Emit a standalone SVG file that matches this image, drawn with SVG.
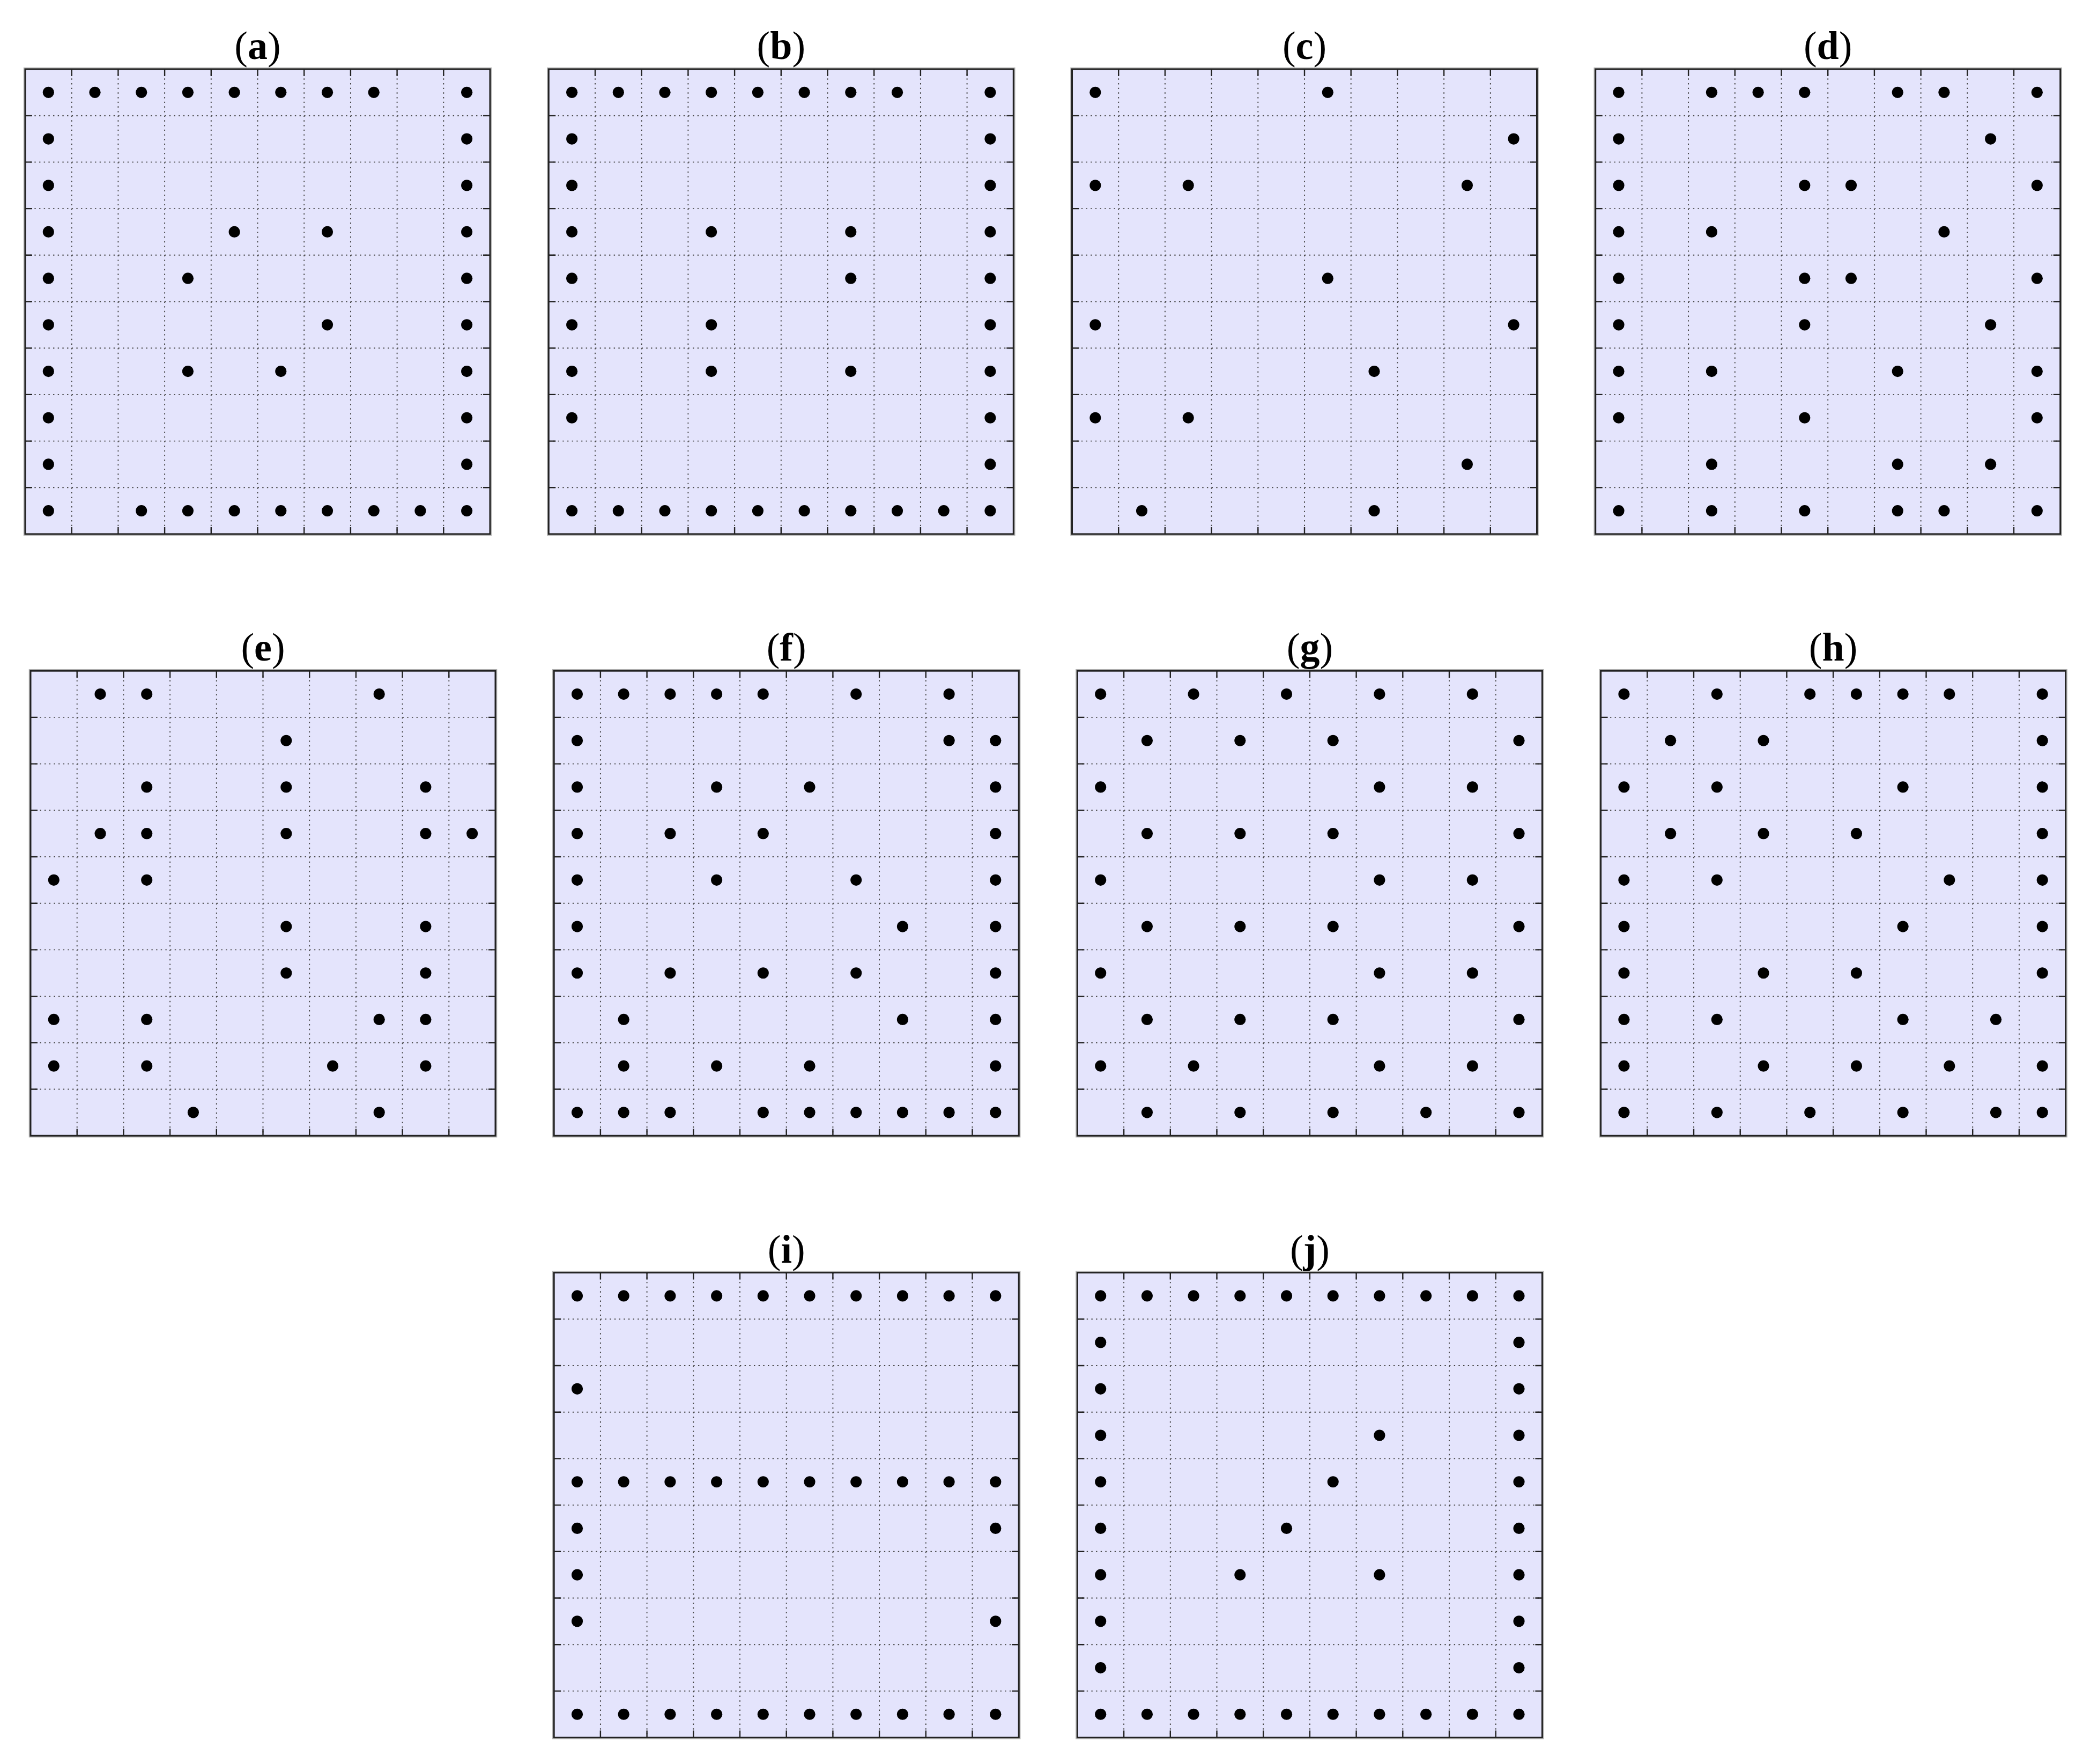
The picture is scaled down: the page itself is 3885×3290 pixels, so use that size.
<svg xmlns="http://www.w3.org/2000/svg" xmlns:xlink="http://www.w3.org/1999/xlink" width="3885" height="3290" viewBox="0 0 3885 3290">
<style>
.bg{fill:#E4E4FC}
.halo{fill:none;stroke:#b4b4b4;stroke-width:6.5}
.grid{fill:none;stroke:#444;stroke-width:1.9;stroke-dasharray:2.4 6.27}
.tick{fill:none;stroke:#222;stroke-width:2.4}
.border{fill:none;stroke:#222;stroke-width:3}
.dots circle{fill:#000}
.title{font-family:"Liberation Serif","Times New Roman",serif;font-size:74px;fill:#000;text-anchor:middle}
.title tspan{font-weight:bold}
</style>
<defs>
<symbol id="frame" overflow="visible">
<rect class="halo" x="0" y="0" width="867" height="867"/>
<rect class="bg" x="0" y="0" width="867" height="867"/>
<path class="grid" d="M86.7 0V867M173.4 0V867M260.1 0V867M346.8 0V867M433.5 0V867M520.2 0V867M606.9 0V867M693.6 0V867M780.3 0V867M0 86.7H867M0 173.4H867M0 260.1H867M0 346.8H867M0 433.5H867M0 520.2H867M0 606.9H867M0 693.6H867M0 780.3H867"/>
<path class="tick" d="M86.7 0v13M173.4 0v13M260.1 0v13M346.8 0v13M433.5 0v13M520.2 0v13M606.9 0v13M693.6 0v13M780.3 0v13M86.7 867v-13M173.4 867v-13M260.1 867v-13M346.8 867v-13M433.5 867v-13M520.2 867v-13M606.9 867v-13M693.6 867v-13M780.3 867v-13M0 86.7h13M0 173.4h13M0 260.1h13M0 346.8h13M0 433.5h13M0 520.2h13M0 606.9h13M0 693.6h13M0 780.3h13M867 86.7h-13M867 173.4h-13M867 260.1h-13M867 346.8h-13M867 433.5h-13M867 520.2h-13M867 606.9h-13M867 693.6h-13M867 780.3h-13"/>
<rect class="border" x="0" y="0" width="867" height="867"/>
</symbol>
</defs>
<rect x="0" y="0" width="3885" height="3290" fill="#fff"/>

<g id="panel-a" transform="translate(47,129)">
<use xlink:href="#frame" href="#frame"/>
<text class="title" x="433.5" y="-19">(<tspan>a</tspan>)</text>
<g class="dots" transform="scale(86.7)">
<circle cx="0.5" cy="0.5" r="0.122"/><circle cx="1.5" cy="0.5" r="0.122"/><circle cx="2.5" cy="0.5" r="0.122"/><circle cx="3.5" cy="0.5" r="0.122"/><circle cx="4.5" cy="0.5" r="0.122"/><circle cx="5.5" cy="0.5" r="0.122"/><circle cx="6.5" cy="0.5" r="0.122"/><circle cx="7.5" cy="0.5" r="0.122"/><circle cx="9.5" cy="0.5" r="0.122"/>
<circle cx="0.5" cy="1.5" r="0.122"/><circle cx="9.5" cy="1.5" r="0.122"/>
<circle cx="0.5" cy="2.5" r="0.122"/><circle cx="9.5" cy="2.5" r="0.122"/>
<circle cx="0.5" cy="3.5" r="0.122"/><circle cx="4.5" cy="3.5" r="0.122"/><circle cx="6.5" cy="3.5" r="0.122"/><circle cx="9.5" cy="3.5" r="0.122"/>
<circle cx="0.5" cy="4.5" r="0.122"/><circle cx="3.5" cy="4.5" r="0.122"/><circle cx="9.5" cy="4.5" r="0.122"/>
<circle cx="0.5" cy="5.5" r="0.122"/><circle cx="6.5" cy="5.5" r="0.122"/><circle cx="9.5" cy="5.5" r="0.122"/>
<circle cx="0.5" cy="6.5" r="0.122"/><circle cx="3.5" cy="6.5" r="0.122"/><circle cx="5.5" cy="6.5" r="0.122"/><circle cx="9.5" cy="6.5" r="0.122"/>
<circle cx="0.5" cy="7.5" r="0.122"/><circle cx="9.5" cy="7.5" r="0.122"/>
<circle cx="0.5" cy="8.5" r="0.122"/><circle cx="9.5" cy="8.5" r="0.122"/>
<circle cx="0.5" cy="9.5" r="0.122"/><circle cx="2.5" cy="9.5" r="0.122"/><circle cx="3.5" cy="9.5" r="0.122"/><circle cx="4.5" cy="9.5" r="0.122"/><circle cx="5.5" cy="9.5" r="0.122"/><circle cx="6.5" cy="9.5" r="0.122"/><circle cx="7.5" cy="9.5" r="0.122"/><circle cx="8.5" cy="9.5" r="0.122"/><circle cx="9.5" cy="9.5" r="0.122"/>
</g>
</g>

<g id="panel-b" transform="translate(1023.3,129)">
<use xlink:href="#frame" href="#frame"/>
<text class="title" x="433.5" y="-19">(<tspan>b</tspan>)</text>
<g class="dots" transform="scale(86.7)">
<circle cx="0.5" cy="0.5" r="0.122"/><circle cx="1.5" cy="0.5" r="0.122"/><circle cx="2.5" cy="0.5" r="0.122"/><circle cx="3.5" cy="0.5" r="0.122"/><circle cx="4.5" cy="0.5" r="0.122"/><circle cx="5.5" cy="0.5" r="0.122"/><circle cx="6.5" cy="0.5" r="0.122"/><circle cx="7.5" cy="0.5" r="0.122"/><circle cx="9.5" cy="0.5" r="0.122"/>
<circle cx="0.5" cy="1.5" r="0.122"/><circle cx="9.5" cy="1.5" r="0.122"/>
<circle cx="0.5" cy="2.5" r="0.122"/><circle cx="9.5" cy="2.5" r="0.122"/>
<circle cx="0.5" cy="3.5" r="0.122"/><circle cx="3.5" cy="3.5" r="0.122"/><circle cx="6.5" cy="3.5" r="0.122"/><circle cx="9.5" cy="3.5" r="0.122"/>
<circle cx="0.5" cy="4.5" r="0.122"/><circle cx="6.5" cy="4.5" r="0.122"/><circle cx="9.5" cy="4.5" r="0.122"/>
<circle cx="0.5" cy="5.5" r="0.122"/><circle cx="3.5" cy="5.5" r="0.122"/><circle cx="9.5" cy="5.5" r="0.122"/>
<circle cx="0.5" cy="6.5" r="0.122"/><circle cx="3.5" cy="6.5" r="0.122"/><circle cx="6.5" cy="6.5" r="0.122"/><circle cx="9.5" cy="6.5" r="0.122"/>
<circle cx="0.5" cy="7.5" r="0.122"/><circle cx="9.5" cy="7.5" r="0.122"/>
<circle cx="9.5" cy="8.5" r="0.122"/>
<circle cx="0.5" cy="9.5" r="0.122"/><circle cx="1.5" cy="9.5" r="0.122"/><circle cx="2.5" cy="9.5" r="0.122"/><circle cx="3.5" cy="9.5" r="0.122"/><circle cx="4.5" cy="9.5" r="0.122"/><circle cx="5.5" cy="9.5" r="0.122"/><circle cx="6.5" cy="9.5" r="0.122"/><circle cx="7.5" cy="9.5" r="0.122"/><circle cx="8.5" cy="9.5" r="0.122"/><circle cx="9.5" cy="9.5" r="0.122"/>
</g>
</g>

<g id="panel-c" transform="translate(1999.5,129)">
<use xlink:href="#frame" href="#frame"/>
<text class="title" x="433.5" y="-19">(<tspan>c</tspan>)</text>
<g class="dots" transform="scale(86.7)">
<circle cx="0.5" cy="0.5" r="0.122"/><circle cx="5.5" cy="0.5" r="0.122"/>
<circle cx="9.5" cy="1.5" r="0.122"/>
<circle cx="0.5" cy="2.5" r="0.122"/><circle cx="2.5" cy="2.5" r="0.122"/><circle cx="8.5" cy="2.5" r="0.122"/>
<circle cx="5.5" cy="4.5" r="0.122"/>
<circle cx="0.5" cy="5.5" r="0.122"/><circle cx="9.5" cy="5.5" r="0.122"/>
<circle cx="6.5" cy="6.5" r="0.122"/>
<circle cx="0.5" cy="7.5" r="0.122"/><circle cx="2.5" cy="7.5" r="0.122"/>
<circle cx="8.5" cy="8.5" r="0.122"/>
<circle cx="1.5" cy="9.5" r="0.122"/><circle cx="6.5" cy="9.5" r="0.122"/>
</g>
</g>

<g id="panel-d" transform="translate(2975.7,129)">
<use xlink:href="#frame" href="#frame"/>
<text class="title" x="433.5" y="-19">(<tspan>d</tspan>)</text>
<g class="dots" transform="scale(86.7)">
<circle cx="0.5" cy="0.5" r="0.122"/><circle cx="2.5" cy="0.5" r="0.122"/><circle cx="3.5" cy="0.5" r="0.122"/><circle cx="4.5" cy="0.5" r="0.122"/><circle cx="6.5" cy="0.5" r="0.122"/><circle cx="7.5" cy="0.5" r="0.122"/><circle cx="9.5" cy="0.5" r="0.122"/>
<circle cx="0.5" cy="1.5" r="0.122"/><circle cx="8.5" cy="1.5" r="0.122"/>
<circle cx="0.5" cy="2.5" r="0.122"/><circle cx="4.5" cy="2.5" r="0.122"/><circle cx="5.5" cy="2.5" r="0.122"/><circle cx="9.5" cy="2.5" r="0.122"/>
<circle cx="0.5" cy="3.5" r="0.122"/><circle cx="2.5" cy="3.5" r="0.122"/><circle cx="7.5" cy="3.5" r="0.122"/>
<circle cx="0.5" cy="4.5" r="0.122"/><circle cx="4.5" cy="4.5" r="0.122"/><circle cx="5.5" cy="4.5" r="0.122"/><circle cx="9.5" cy="4.5" r="0.122"/>
<circle cx="0.5" cy="5.5" r="0.122"/><circle cx="4.5" cy="5.5" r="0.122"/><circle cx="8.5" cy="5.5" r="0.122"/>
<circle cx="0.5" cy="6.5" r="0.122"/><circle cx="2.5" cy="6.5" r="0.122"/><circle cx="6.5" cy="6.5" r="0.122"/><circle cx="9.5" cy="6.5" r="0.122"/>
<circle cx="0.5" cy="7.5" r="0.122"/><circle cx="4.5" cy="7.5" r="0.122"/><circle cx="9.5" cy="7.5" r="0.122"/>
<circle cx="2.5" cy="8.5" r="0.122"/><circle cx="6.5" cy="8.5" r="0.122"/><circle cx="8.5" cy="8.5" r="0.122"/>
<circle cx="0.5" cy="9.5" r="0.122"/><circle cx="2.5" cy="9.5" r="0.122"/><circle cx="4.5" cy="9.5" r="0.122"/><circle cx="6.5" cy="9.5" r="0.122"/><circle cx="7.5" cy="9.5" r="0.122"/><circle cx="9.5" cy="9.5" r="0.122"/>
</g>
</g>

<g id="panel-e" transform="translate(57,1251.2)">
<use xlink:href="#frame" href="#frame"/>
<text class="title" x="433.5" y="-19">(<tspan>e</tspan>)</text>
<g class="dots" transform="scale(86.7)">
<circle cx="1.5" cy="0.5" r="0.122"/><circle cx="2.5" cy="0.5" r="0.122"/><circle cx="7.5" cy="0.5" r="0.122"/>
<circle cx="5.5" cy="1.5" r="0.122"/>
<circle cx="2.5" cy="2.5" r="0.122"/><circle cx="5.5" cy="2.5" r="0.122"/><circle cx="8.5" cy="2.5" r="0.122"/>
<circle cx="1.5" cy="3.5" r="0.122"/><circle cx="2.5" cy="3.5" r="0.122"/><circle cx="5.5" cy="3.5" r="0.122"/><circle cx="8.5" cy="3.5" r="0.122"/><circle cx="9.5" cy="3.5" r="0.122"/>
<circle cx="0.5" cy="4.5" r="0.122"/><circle cx="2.5" cy="4.5" r="0.122"/>
<circle cx="5.5" cy="5.5" r="0.122"/><circle cx="8.5" cy="5.5" r="0.122"/>
<circle cx="5.5" cy="6.5" r="0.122"/><circle cx="8.5" cy="6.5" r="0.122"/>
<circle cx="0.5" cy="7.5" r="0.122"/><circle cx="2.5" cy="7.5" r="0.122"/><circle cx="7.5" cy="7.5" r="0.122"/><circle cx="8.5" cy="7.5" r="0.122"/>
<circle cx="0.5" cy="8.5" r="0.122"/><circle cx="2.5" cy="8.5" r="0.122"/><circle cx="6.5" cy="8.5" r="0.122"/><circle cx="8.5" cy="8.5" r="0.122"/>
<circle cx="3.5" cy="9.5" r="0.122"/><circle cx="7.5" cy="9.5" r="0.122"/>
</g>
</g>

<g id="panel-f" transform="translate(1033.2,1251.2)">
<use xlink:href="#frame" href="#frame"/>
<text class="title" x="433.5" y="-19">(<tspan>f</tspan>)</text>
<g class="dots" transform="scale(86.7)">
<circle cx="0.5" cy="0.5" r="0.122"/><circle cx="1.5" cy="0.5" r="0.122"/><circle cx="2.5" cy="0.5" r="0.122"/><circle cx="3.5" cy="0.5" r="0.122"/><circle cx="4.5" cy="0.5" r="0.122"/><circle cx="6.5" cy="0.5" r="0.122"/><circle cx="8.5" cy="0.5" r="0.122"/>
<circle cx="0.5" cy="1.5" r="0.122"/><circle cx="8.5" cy="1.5" r="0.122"/><circle cx="9.5" cy="1.5" r="0.122"/>
<circle cx="0.5" cy="2.5" r="0.122"/><circle cx="3.5" cy="2.5" r="0.122"/><circle cx="5.5" cy="2.5" r="0.122"/><circle cx="9.5" cy="2.5" r="0.122"/>
<circle cx="0.5" cy="3.5" r="0.122"/><circle cx="2.5" cy="3.5" r="0.122"/><circle cx="4.5" cy="3.5" r="0.122"/><circle cx="9.5" cy="3.5" r="0.122"/>
<circle cx="0.5" cy="4.5" r="0.122"/><circle cx="3.5" cy="4.5" r="0.122"/><circle cx="6.5" cy="4.5" r="0.122"/><circle cx="9.5" cy="4.5" r="0.122"/>
<circle cx="0.5" cy="5.5" r="0.122"/><circle cx="7.5" cy="5.5" r="0.122"/><circle cx="9.5" cy="5.5" r="0.122"/>
<circle cx="0.5" cy="6.5" r="0.122"/><circle cx="2.5" cy="6.5" r="0.122"/><circle cx="4.5" cy="6.5" r="0.122"/><circle cx="6.5" cy="6.5" r="0.122"/><circle cx="9.5" cy="6.5" r="0.122"/>
<circle cx="1.5" cy="7.5" r="0.122"/><circle cx="7.5" cy="7.5" r="0.122"/><circle cx="9.5" cy="7.5" r="0.122"/>
<circle cx="1.5" cy="8.5" r="0.122"/><circle cx="3.5" cy="8.5" r="0.122"/><circle cx="5.5" cy="8.5" r="0.122"/><circle cx="9.5" cy="8.5" r="0.122"/>
<circle cx="0.5" cy="9.5" r="0.122"/><circle cx="1.5" cy="9.5" r="0.122"/><circle cx="2.5" cy="9.5" r="0.122"/><circle cx="4.5" cy="9.5" r="0.122"/><circle cx="5.5" cy="9.5" r="0.122"/><circle cx="6.5" cy="9.5" r="0.122"/><circle cx="7.5" cy="9.5" r="0.122"/><circle cx="8.5" cy="9.5" r="0.122"/><circle cx="9.5" cy="9.5" r="0.122"/>
</g>
</g>

<g id="panel-g" transform="translate(2009.4,1251.2)">
<use xlink:href="#frame" href="#frame"/>
<text class="title" x="433.5" y="-19">(<tspan>g</tspan>)</text>
<g class="dots" transform="scale(86.7)">
<circle cx="0.5" cy="0.5" r="0.122"/><circle cx="2.5" cy="0.5" r="0.122"/><circle cx="4.5" cy="0.5" r="0.122"/><circle cx="6.5" cy="0.5" r="0.122"/><circle cx="8.5" cy="0.5" r="0.122"/>
<circle cx="1.5" cy="1.5" r="0.122"/><circle cx="3.5" cy="1.5" r="0.122"/><circle cx="5.5" cy="1.5" r="0.122"/><circle cx="9.5" cy="1.5" r="0.122"/>
<circle cx="0.5" cy="2.5" r="0.122"/><circle cx="6.5" cy="2.5" r="0.122"/><circle cx="8.5" cy="2.5" r="0.122"/>
<circle cx="1.5" cy="3.5" r="0.122"/><circle cx="3.5" cy="3.5" r="0.122"/><circle cx="5.5" cy="3.5" r="0.122"/><circle cx="9.5" cy="3.5" r="0.122"/>
<circle cx="0.5" cy="4.5" r="0.122"/><circle cx="6.5" cy="4.5" r="0.122"/><circle cx="8.5" cy="4.5" r="0.122"/>
<circle cx="1.5" cy="5.5" r="0.122"/><circle cx="3.5" cy="5.5" r="0.122"/><circle cx="5.5" cy="5.5" r="0.122"/><circle cx="9.5" cy="5.5" r="0.122"/>
<circle cx="0.5" cy="6.5" r="0.122"/><circle cx="6.5" cy="6.5" r="0.122"/><circle cx="8.5" cy="6.5" r="0.122"/>
<circle cx="1.5" cy="7.5" r="0.122"/><circle cx="3.5" cy="7.5" r="0.122"/><circle cx="5.5" cy="7.5" r="0.122"/><circle cx="9.5" cy="7.5" r="0.122"/>
<circle cx="0.5" cy="8.5" r="0.122"/><circle cx="2.5" cy="8.5" r="0.122"/><circle cx="6.5" cy="8.5" r="0.122"/><circle cx="8.5" cy="8.5" r="0.122"/>
<circle cx="1.5" cy="9.5" r="0.122"/><circle cx="3.5" cy="9.5" r="0.122"/><circle cx="5.5" cy="9.5" r="0.122"/><circle cx="7.5" cy="9.5" r="0.122"/><circle cx="9.5" cy="9.5" r="0.122"/>
</g>
</g>

<g id="panel-h" transform="translate(2985.6,1251.2)">
<use xlink:href="#frame" href="#frame"/>
<text class="title" x="433.5" y="-19">(<tspan>h</tspan>)</text>
<g class="dots" transform="scale(86.7)">
<circle cx="0.5" cy="0.5" r="0.122"/><circle cx="2.5" cy="0.5" r="0.122"/><circle cx="4.5" cy="0.5" r="0.122"/><circle cx="5.5" cy="0.5" r="0.122"/><circle cx="6.5" cy="0.5" r="0.122"/><circle cx="7.5" cy="0.5" r="0.122"/><circle cx="9.5" cy="0.5" r="0.122"/>
<circle cx="1.5" cy="1.5" r="0.122"/><circle cx="3.5" cy="1.5" r="0.122"/><circle cx="9.5" cy="1.5" r="0.122"/>
<circle cx="0.5" cy="2.5" r="0.122"/><circle cx="2.5" cy="2.5" r="0.122"/><circle cx="6.5" cy="2.5" r="0.122"/><circle cx="9.5" cy="2.5" r="0.122"/>
<circle cx="1.5" cy="3.5" r="0.122"/><circle cx="3.5" cy="3.5" r="0.122"/><circle cx="5.5" cy="3.5" r="0.122"/><circle cx="9.5" cy="3.5" r="0.122"/>
<circle cx="0.5" cy="4.5" r="0.122"/><circle cx="2.5" cy="4.5" r="0.122"/><circle cx="7.5" cy="4.5" r="0.122"/><circle cx="9.5" cy="4.5" r="0.122"/>
<circle cx="0.5" cy="5.5" r="0.122"/><circle cx="6.5" cy="5.5" r="0.122"/><circle cx="9.5" cy="5.5" r="0.122"/>
<circle cx="0.5" cy="6.5" r="0.122"/><circle cx="3.5" cy="6.5" r="0.122"/><circle cx="5.5" cy="6.5" r="0.122"/><circle cx="9.5" cy="6.5" r="0.122"/>
<circle cx="0.5" cy="7.5" r="0.122"/><circle cx="2.5" cy="7.5" r="0.122"/><circle cx="6.5" cy="7.5" r="0.122"/><circle cx="8.5" cy="7.5" r="0.122"/>
<circle cx="0.5" cy="8.5" r="0.122"/><circle cx="3.5" cy="8.5" r="0.122"/><circle cx="5.5" cy="8.5" r="0.122"/><circle cx="7.5" cy="8.5" r="0.122"/><circle cx="9.5" cy="8.5" r="0.122"/>
<circle cx="0.5" cy="9.5" r="0.122"/><circle cx="2.5" cy="9.5" r="0.122"/><circle cx="4.5" cy="9.5" r="0.122"/><circle cx="6.5" cy="9.5" r="0.122"/><circle cx="8.5" cy="9.5" r="0.122"/><circle cx="9.5" cy="9.5" r="0.122"/>
</g>
</g>

<g id="panel-i" transform="translate(1033.2,2373.6)">
<use xlink:href="#frame" href="#frame"/>
<text class="title" x="433.5" y="-19">(<tspan>i</tspan>)</text>
<g class="dots" transform="scale(86.7)">
<circle cx="0.5" cy="0.5" r="0.122"/><circle cx="1.5" cy="0.5" r="0.122"/><circle cx="2.5" cy="0.5" r="0.122"/><circle cx="3.5" cy="0.5" r="0.122"/><circle cx="4.5" cy="0.5" r="0.122"/><circle cx="5.5" cy="0.5" r="0.122"/><circle cx="6.5" cy="0.5" r="0.122"/><circle cx="7.5" cy="0.5" r="0.122"/><circle cx="8.5" cy="0.5" r="0.122"/><circle cx="9.5" cy="0.5" r="0.122"/>
<circle cx="0.5" cy="2.5" r="0.122"/>
<circle cx="0.5" cy="4.5" r="0.122"/><circle cx="1.5" cy="4.5" r="0.122"/><circle cx="2.5" cy="4.5" r="0.122"/><circle cx="3.5" cy="4.5" r="0.122"/><circle cx="4.5" cy="4.5" r="0.122"/><circle cx="5.5" cy="4.5" r="0.122"/><circle cx="6.5" cy="4.5" r="0.122"/><circle cx="7.5" cy="4.5" r="0.122"/><circle cx="8.5" cy="4.5" r="0.122"/><circle cx="9.5" cy="4.5" r="0.122"/>
<circle cx="0.5" cy="5.5" r="0.122"/><circle cx="9.5" cy="5.5" r="0.122"/>
<circle cx="0.5" cy="6.5" r="0.122"/>
<circle cx="0.5" cy="7.5" r="0.122"/><circle cx="9.5" cy="7.5" r="0.122"/>
<circle cx="0.5" cy="9.5" r="0.122"/><circle cx="1.5" cy="9.5" r="0.122"/><circle cx="2.5" cy="9.5" r="0.122"/><circle cx="3.5" cy="9.5" r="0.122"/><circle cx="4.5" cy="9.5" r="0.122"/><circle cx="5.5" cy="9.5" r="0.122"/><circle cx="6.5" cy="9.5" r="0.122"/><circle cx="7.5" cy="9.5" r="0.122"/><circle cx="8.5" cy="9.5" r="0.122"/><circle cx="9.5" cy="9.5" r="0.122"/>
</g>
</g>

<g id="panel-j" transform="translate(2009.4,2373.6)">
<use xlink:href="#frame" href="#frame"/>
<text class="title" x="433.5" y="-19">(<tspan>j</tspan>)</text>
<g class="dots" transform="scale(86.7)">
<circle cx="0.5" cy="0.5" r="0.122"/><circle cx="1.5" cy="0.5" r="0.122"/><circle cx="2.5" cy="0.5" r="0.122"/><circle cx="3.5" cy="0.5" r="0.122"/><circle cx="4.5" cy="0.5" r="0.122"/><circle cx="5.5" cy="0.5" r="0.122"/><circle cx="6.5" cy="0.5" r="0.122"/><circle cx="7.5" cy="0.5" r="0.122"/><circle cx="8.5" cy="0.5" r="0.122"/><circle cx="9.5" cy="0.5" r="0.122"/>
<circle cx="0.5" cy="1.5" r="0.122"/><circle cx="9.5" cy="1.5" r="0.122"/>
<circle cx="0.5" cy="2.5" r="0.122"/><circle cx="9.5" cy="2.5" r="0.122"/>
<circle cx="0.5" cy="3.5" r="0.122"/><circle cx="6.5" cy="3.5" r="0.122"/><circle cx="9.5" cy="3.5" r="0.122"/>
<circle cx="0.5" cy="4.5" r="0.122"/><circle cx="5.5" cy="4.5" r="0.122"/><circle cx="9.5" cy="4.5" r="0.122"/>
<circle cx="0.5" cy="5.5" r="0.122"/><circle cx="4.5" cy="5.5" r="0.122"/><circle cx="9.5" cy="5.5" r="0.122"/>
<circle cx="0.5" cy="6.5" r="0.122"/><circle cx="3.5" cy="6.5" r="0.122"/><circle cx="6.5" cy="6.5" r="0.122"/><circle cx="9.5" cy="6.5" r="0.122"/>
<circle cx="0.5" cy="7.5" r="0.122"/><circle cx="9.5" cy="7.5" r="0.122"/>
<circle cx="0.5" cy="8.5" r="0.122"/><circle cx="9.5" cy="8.5" r="0.122"/>
<circle cx="0.5" cy="9.5" r="0.122"/><circle cx="1.5" cy="9.5" r="0.122"/><circle cx="2.5" cy="9.5" r="0.122"/><circle cx="3.5" cy="9.5" r="0.122"/><circle cx="4.5" cy="9.5" r="0.122"/><circle cx="5.5" cy="9.5" r="0.122"/><circle cx="6.5" cy="9.5" r="0.122"/><circle cx="7.5" cy="9.5" r="0.122"/><circle cx="8.5" cy="9.5" r="0.122"/><circle cx="9.5" cy="9.5" r="0.122"/>
</g>
</g>
</svg>
